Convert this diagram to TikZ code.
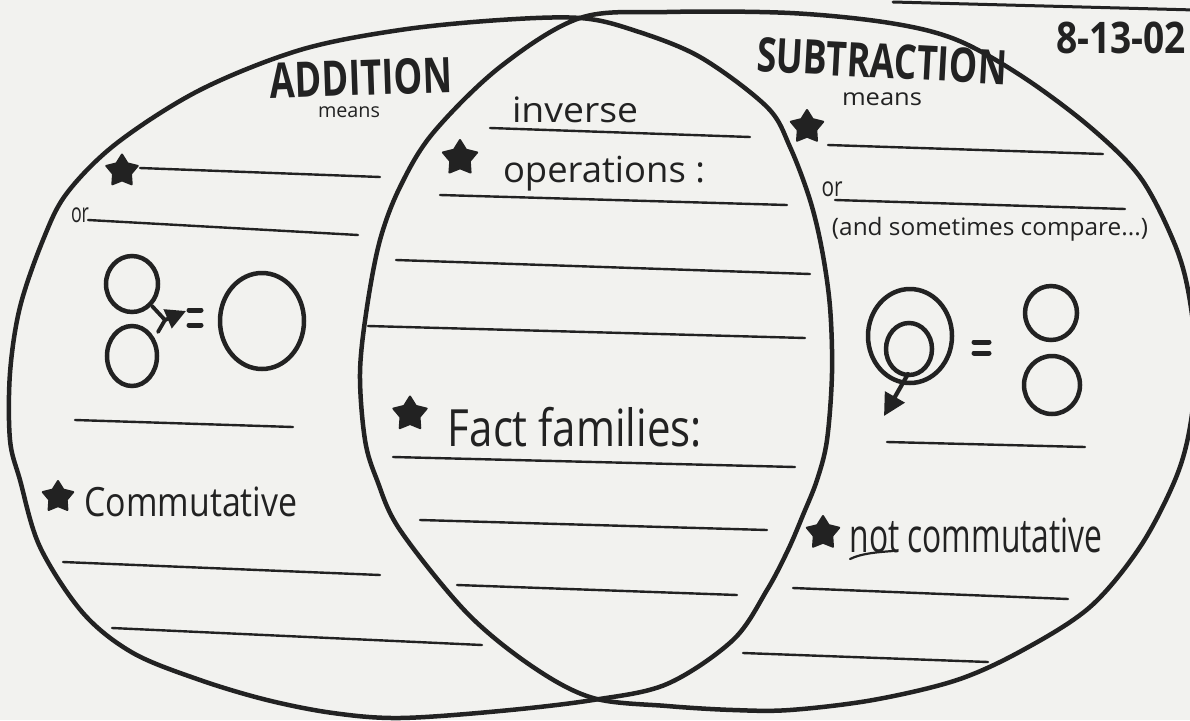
\documentclass[tikz,border=0pt]{standalone}
\usepackage{fontspec}
\setmainfont{Open Sans}
\usetikzlibrary{shapes.geometric,arrows.meta}
\definecolor{paper}{RGB}{242,242,239}
\definecolor{ink}{RGB}{34,34,34}
\tikzset{
  outline/.style={draw=ink, line width=4.5pt, line join=round},
  blank/.style={draw=ink, line width=2.4pt, line cap=round},
  txt/.style={inner sep=0pt, text=ink},
  starmark/.style={star, star points=5, star point ratio=1.75, fill=ink, draw=ink, line width=2pt, line join=round, inner sep=0pt, minimum size=#1},
  starmark/.default=34pt,
  ring/.style={draw=ink, line width=4.5pt},
  stroke/.style={draw=ink, line width=3.8pt, line cap=round},
}
\begin{document}
\begin{tikzpicture}[x=1pt,y=-1pt]
\fill[paper] (0,0) rectangle (1190,720);
\useasboundingbox (0,0) rectangle (1190,720);

% Venn outlines
\draw[outline] plot[smooth cycle, tension=0.55] coordinates {
 (580,18) (633,30) (700,57) (767,107) (790,147) (810,200) (822,250) (830,307)
 (832,373) (827,440) (817,480) (803,515) (788,550) (767,590) (733,640) (667,684)
 (593,700) (500,711) (400,718) (333,713) (267,700) (200,680) (133,653) (83,613)
 (40,547) (20,480) (10,440) (10,373) (20,307) (43,240) (67,193) (117,143)
 (200,90) (300,50) (400,30) (500,20)};
\draw[outline] plot[smooth cycle, tension=0.55] coordinates {
 (580,18) (667,12) (790,13) (890,23) (957,40) (1023,77) (1090,127) (1140,177)
 (1173,240) (1188,290) (1196,360) (1190,427) (1175,480) (1140,547) (1090,607)
 (1023,650) (957,680) (873,700) (790,710) (733,710) (667,706) (593,698)
 (533,667) (467,613) (400,530) (377,480) (365,440) (360,373) (367,307)
 (380,240) (400,187) (433,133) (500,67)};

% top-right name line
\draw[blank, line width=3pt] (893,2) -- (1195,10);

% blank lines, left
\draw[blank] (140,168) -- (380,177);
\draw[blank] (88,220) -- (358,235);
\draw[blank] (75,420) -- (293,427);
\draw[blank] (63,562) -- (380,575);
\draw[blank] (112,628) -- (482,645);
% blank lines, centre
\draw[blank] (490,128) -- (750,137);
\draw[blank] (440,195) -- (787,205);
\draw[blank] (396,260) -- (810,274);
\draw[blank] (368,326) -- (805,338);
\draw[blank] (393,457) -- (795,467);
\draw[blank] (420,520) -- (767,530);
\draw[blank] (457,585) -- (737,595);
% blank lines, right
\draw[blank] (828,145) -- (1103,154);
\draw[blank] (835,200) -- (1125,209);
\draw[blank] (887,442) -- (1085,447);
\draw[blank] (793,588) -- (1068,599);
\draw[blank] (743,653) -- (988,662);

% stars
\node[starmark=33pt] (s1) at (122,171) {};
\node[starmark=36pt] (s2) at (460,158) {};
\node[starmark=35pt] (s3) at (410,414) {};
\node[starmark=32pt] (s4) at (58,497) {};
\node[starmark=34pt] (s5) at (807,127) {};
\node[starmark=34pt] (s6) at (823,533) {};

% titles
\node[txt, rotate=2] (addT) at (361,78) {\resizebox*{182pt}{36pt}{\bfseries ADDITION}};
\node[txt] (addMeans) at (349,112) {\resizebox*{62pt}{11pt}{means}};
\node[txt, rotate=-3] (subT) at (882,61) {\resizebox*{250pt}{35pt}{\bfseries SUBTRACTION}};
\node[txt] (subMeans) at (882,99) {\resizebox*{80pt}{13pt}{means}};
\node[txt] (date) at (1121,38) {\resizebox*{130pt}{32pt}{\bfseries 8-13-02}};

% texts
\node[txt] (orL) at (80,215) {\resizebox*{18pt}{15pt}{or}};
\node[txt] (orR) at (832,189) {\resizebox*{21pt}{15pt}{or}};
\node[txt] (cmp) at (990,229) {\resizebox*{316pt}{24pt}{(and sometimes compare...)}};
\node[txt] (inv) at (575,110) {\resizebox*{126pt}{26pt}{inverse}};
\node[txt] (ops) at (604,174) {\resizebox*{202pt}{35pt}{operations :}};
\node[txt] (fact) at (575,427) {\resizebox*{254pt}{40pt}{Fact families:}};
\node[txt] (comm) at (191,502) {\resizebox*{213pt}{30pt}{Commutative}};
\node[txt] (ncomm) at (976,535) {\resizebox*{253pt}{35pt}{not commutative}};
\draw[ink, line width=2.2pt, line cap=round] (850,559) .. controls (862,553) and (880,552) .. (893,551);

% addition picture
\draw[ring] (132,284) ellipse [x radius=26pt, y radius=28pt];
\draw[ring] (132,356) ellipse [x radius=25pt, y radius=30pt];
\coordinate (aj) at (165,320);
\draw[stroke] (152,306) -- (aj);
\draw[stroke] (158,332) -- (aj);
\draw[stroke, -{Triangle[length=20pt,width=20pt]}] (aj) -- (186,311);
\draw[stroke, line width=5pt] (189,310) -- (201,310);
\draw[stroke, line width=5pt] (189,325) -- (201,325);
\draw[ring] (262,321) ellipse [x radius=42pt, y radius=48pt];

% subtraction picture
\draw[ring] (910,336) ellipse [x radius=42pt, y radius=47pt];
\draw[ring] (909,349) ellipse [x radius=23pt, y radius=26pt];
\draw[stroke, line width=4.2pt, -{Triangle[length=22pt,width=22pt]}] (908,374) -- (884,416);
\draw[stroke, line width=5pt] (974,342) -- (989,342);
\draw[stroke, line width=5pt] (974,353) -- (989,353);
\draw[ring] (1051,313) ellipse [x radius=26pt, y radius=27pt];
\draw[ring] (1052,385) ellipse [x radius=28pt, y radius=29pt];
\end{tikzpicture}
\end{document}
